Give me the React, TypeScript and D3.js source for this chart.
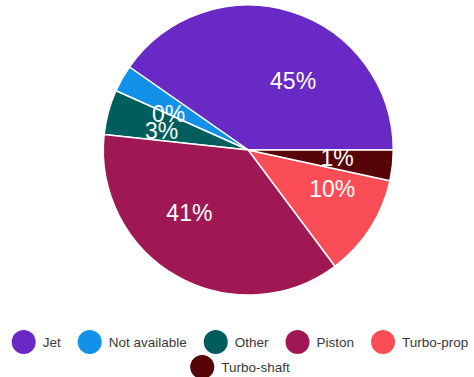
import React, { useMemo } from "react";
import * as d3 from "d3";

const categories = ["Jet", "Not available", "Other", "Piston", "Turbo-prop", "Turbo-shaft"];
const shares = [40.3, 3.0, 5.0, 36.9, 11.4, 3.4];
const percentLabels = ["45%", "0%", "3%", "41%", "10%", "1%"];
const colors = ["#6929c4", "#1192e8", "#005d5d", "#9f1853", "#fa4d56", "#570408"];

const W = 474;
const H = 377;
const CX = 248.3;
const CY = 150;
const R = 145;
const FONT = "'Liberation Sans', Arial, sans-serif";
const LEGEND_FS = 13.5;

export default function App() {
  const pie = d3
    .pie<number>()
    .sort(null)
    .startAngle(Math.PI / 2)
    .endAngle(Math.PI / 2 - 2 * Math.PI)
    .value((d) => d);
  const arcs = pie(shares);
  const arc = d3.arc<d3.PieArcDatum<number>>().innerRadius(0).outerRadius(R);

  const legend = useMemo(() => {
    const canvas = document.createElement("canvas");
    const ctx = canvas.getContext("2d")!;
    ctx.font = `${LEGEND_FS}px ${FONT}`;
    const circleD = 24;
    const gapText = 7;
    const gapItem = 17;
    const maxW = 462;
    const items = categories.map((c, i) => ({
      name: c,
      color: colors[i],
      w: circleD + gapText + ctx.measureText(c).width,
    }));
    const rows: { name: string; color: string; w: number }[][] = [];
    let cur: typeof items = [];
    let curW = 0;
    items.forEach((it) => {
      const add = cur.length ? gapItem + it.w : it.w;
      if (cur.length && curW + add > maxW) {
        rows.push(cur);
        cur = [it];
        curW = it.w;
      } else {
        cur.push(it);
        curW += add;
      }
    });
    if (cur.length) rows.push(cur);
    const out: { name: string; color: string; cx: number; cy: number; tx: number }[] = [];
    rows.forEach((row, ri) => {
      const total = row.reduce((s, it, k) => s + it.w + (k ? gapItem : 0), 0);
      let x = 240 - total / 2;
      const y = 342 + ri * 25;
      row.forEach((it) => {
        out.push({ name: it.name, color: it.color, cx: x + circleD / 2, cy: y, tx: x + circleD + gapText });
        x += it.w + gapItem;
      });
    });
    return out;
  }, []);

  return (
    <svg
      width={W}
      height={H}
      style={{ position: "absolute", left: 0, top: 0, background: "#fff" }}
      fontFamily={FONT}
    >
      <g transform={`translate(${CX},${CY})`}>
        {arcs.map((a, i) => (
          <path key={i} d={arc(a) || ""} fill={colors[i]} stroke="#fff" strokeWidth={1.5} />
        ))}
        {arcs.map((a, i) => {
          const [x, y] = arc.centroid(a);
          return (
            <text
              key={"l" + i}
              x={x}
              y={y}
              textAnchor={x >= 0 ? "start" : "end"}
              dominantBaseline="central"
              fill="#fff"
              fontSize={23}
            >
              {percentLabels[i]}
            </text>
          );
        })}
      </g>
      {legend.map((l) => (
        <g key={l.name}>
          <circle cx={l.cx} cy={l.cy} r={12} fill={l.color} />
          <text x={l.tx} y={l.cy} dominantBaseline="central" fontSize={LEGEND_FS} fill="#393939">
            {l.name}
          </text>
        </g>
      ))}
    </svg>
  );
}
